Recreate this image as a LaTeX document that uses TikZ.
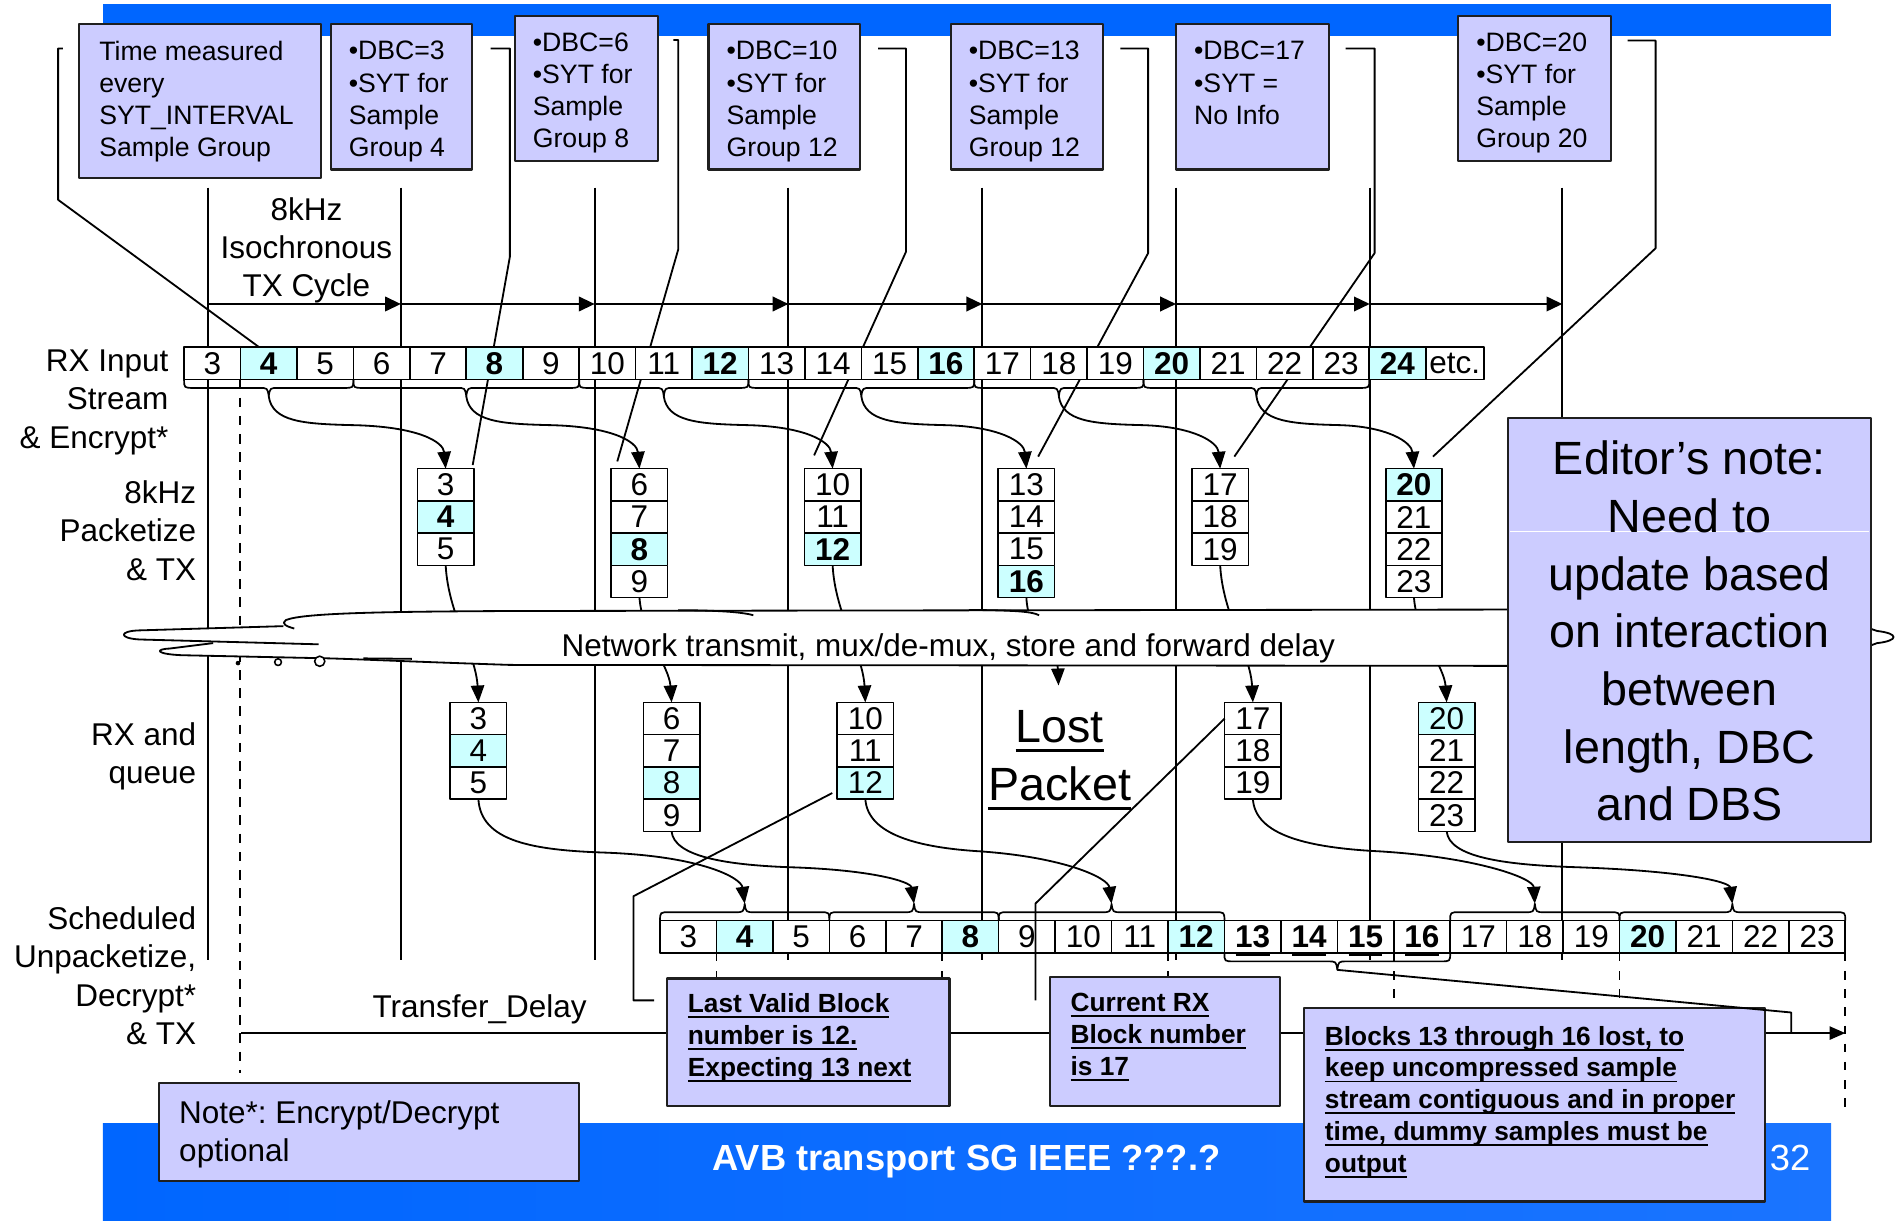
\documentclass[tikz,border=0pt]{standalone}
\usepackage{fontspec}
\setmainfont{Liberation Sans}
\usetikzlibrary{arrows.meta,calc}
\frenchspacing
\definecolor{lav}{HTML}{CCCCFF}
\definecolor{cy}{HTML}{CCFFFF}
\definecolor{bb}{HTML}{0066FF}
\definecolor{bbb}{HTML}{1A74FF}
\newcommand\fntA{\fontsize{22}{26.5}\selectfont}
\newcommand\fntB{\fontsize{26}{31.7}\selectfont}
\newcommand\fntBb{\fontsize{26}{31.7}\selectfont\bfseries}
\newcommand\fntC{\fontsize{38.5}{47.6}\selectfont}
\newcommand\fntD{\fontsize{21.7}{26.3}\selectfont\bfseries}
\newcommand\fntE{\fontsize{30}{36}\selectfont}
\newsavebox\ulbox
\newcommand\myul[2][1.6pt]{\sbox\ulbox{#2}\rlap{\rule[-0.21em]{\wd\ulbox}{#1}}\usebox\ulbox}
\newcommand\bracedn[3]{\draw[brc] (#1,#3) .. controls (#1,{#3+7}) .. ({#1+8},{#3+7}) -- ({(#1+#2)/2-8},{#3+7}) .. controls ({(#1+#2)/2-1},{#3+7}) .. ({(#1+#2)/2},{#3+14}) .. controls ({(#1+#2)/2+1},{#3+7}) .. ({(#1+#2)/2+8},{#3+7}) -- ({#2-8},{#3+7}) .. controls (#2,{#3+7}) .. (#2,#3);}
\newcommand\braceup[3]{\draw[brc] (#1,#3) .. controls (#1,{#3-7}) .. ({#1+8},{#3-7}) -- ({(#1+#2)/2-8},{#3-7}) .. controls ({(#1+#2)/2-1},{#3-7}) .. ({(#1+#2)/2},{#3-14}) .. controls ({(#1+#2)/2+1},{#3-7}) .. ({(#1+#2)/2+8},{#3-7}) -- ({#2-8},{#3-7}) .. controls (#2,{#3-7}) .. (#2,#3);}
\newcommand\rxarrow[2]{\draw[arr] (#1,327.3) .. controls ({#1+3},348) and ({#1+28},350) .. ({#1+68},351) .. controls ($(#2.north)+(-22,-35)$) and ($(#2.north)+(-2,-22)$) .. (#2.north);}
\begin{document}
\begin{tikzpicture}[x=1pt,y=-1pt,line join=round,
  cell/.style={draw=black,line width=1.3pt,fill=white,minimum width=46.6pt,minimum height=26.6pt,inner sep=0pt,outer sep=0pt,font=\fntB},
  lbox/.style={draw=black!88,line width=1.8pt,fill=lav,inner sep=0pt,outer sep=0pt,anchor=north west},
  ttxt/.style={inner sep=0pt,outer sep=0pt,anchor=north west,align=left},
  rlab/.style={inner sep=0pt,outer sep=0pt,anchor=north east,align=right,font=\fntB},
  cyc/.style={line width=1.6pt},
  lead/.style={line width=1.5pt},
  brc/.style={line width=1.4pt},
  cl/.style={line width=1.5pt},
  arr/.style={line width=1.5pt,-{Triangle[length=14pt,width=11pt]}},
  harr/.style={line width=1.6pt,-{Triangle[length=13pt,width=12pt]}},
  dsh/.style={line width=1.5pt,dash pattern=on 8pt off 7pt}]
\useasboundingbox (0,0) rectangle (1568,1010);

% blue bars
\fill[bb] (85,3) rectangle (1512,30);
\shade[left color=bb,right color=bbb] (85,928) rectangle (1512,1008);

% cycle lines and TX cycle arrows
\foreach \x [count=\i] in {172,331,491,651,811,971,1131,1290} {
  \coordinate (ct\i) at (\x,155);
  \coordinate (cb\i) at (\x,793);
  \coordinate (ch\i) at (\x,251);
  \draw[cyc] (ct\i) -- (cb\i);
}
\foreach \i [evaluate=\i as \j using int(\i+1)] in {1,...,7} \draw[harr] (ch\i) -- (ch\j);

\coordinate (dt) at (198,313.3);
\coordinate (db) at (198,886);
\draw[dsh] (dt) -- (db);

% TX packets
\foreach \n/\fillc/\fnt [count=\k from 0] in {3/white/\fntB,4/cy/\fntBb,5/white/\fntB}
  \node[cell,fill=\fillc,font=\fnt] (t\n) at (368,{400.3+\k*26.6}) {\n};
\foreach \n/\fillc/\fnt [count=\k from 0] in {6/white/\fntB,7/white/\fntB,8/cy/\fntBb,9/white/\fntB}
  \node[cell,fill=\fillc,font=\fnt] (t\n) at (528,{400.3+\k*26.6}) {\n};
\foreach \n/\fillc/\fnt [count=\k from 0] in {10/white/\fntB,11/white/\fntB,12/cy/\fntBb}
  \node[cell,fill=\fillc,font=\fnt] (t\n) at (687.5,{400.3+\k*26.6}) {\n};
\foreach \n/\fillc/\fnt [count=\k from 0] in {13/white/\fntB,14/white/\fntB,15/white/\fntB,16/cy/\fntBb}
  \node[cell,fill=\fillc,font=\fnt] (t\n) at (847.5,{400.3+\k*26.6}) {\n};
\foreach \n/\fillc/\fnt [count=\k from 0] in {17/white/\fntB,18/white/\fntB,19/white/\fntB}
  \node[cell,fill=\fillc,font=\fnt] (t\n) at (1007.5,{400.3+\k*26.6}) {\n};
\foreach \n/\fillc/\fnt [count=\k from 0] in {20/cy/\fntBb,21/white/\fntB,22/white/\fntB,23/white/\fntB}
  \node[cell,fill=\fillc,font=\fnt] (t\n) at (1167.5,{400.3+\k*26.6}) {\n};

% RX queues
\foreach \n/\fillc [count=\k from 0] in {3/white,4/cy,5/white}
  \node[cell,fill=\fillc] (q\n) at (395,{593.3+\k*26.6}) {\n};
\foreach \n/\fillc [count=\k from 0] in {6/white,7/white,8/cy,9/white}
  \node[cell,fill=\fillc] (q\n) at (554.5,{593.3+\k*26.6}) {\n};
\foreach \n/\fillc [count=\k from 0] in {10/white,11/white,12/cy}
  \node[cell,fill=\fillc] (q\n) at (714.5,{593.3+\k*26.6}) {\n};
\foreach \n/\fillc [count=\k from 0] in {17/white,18/white,19/white}
  \node[cell,fill=\fillc] (q\n) at (1034.5,{593.3+\k*26.6}) {\n};
\foreach \n/\fillc [count=\k from 0] in {20/cy,21/white,22/white,23/white}
  \node[cell,fill=\fillc] (q\n) at (1194.5,{593.3+\k*26.6}) {\n};

% leader lines from the top boxes
\draw[lead] (52,40) -- (48,40) -- (48,165) -- (214,286.7);
\draw[lead] (405,40) -- (421,40) -- (421,212) -- ($(t3.north east)+(-1,-3)$);
\draw[lead] (556,33) -- (560,33) -- (560,206) -- ($(t6.north west)+(5,-6)$);
\draw[lead] (725,40) -- (748,40) -- (748,208) -- ($(t10.north west)+(8,-11)$);
\draw[lead] (925,40) -- (948,40) -- (948,209) -- ($(t13.north west)+(33,-10)$);
\draw[lead] (1111,40) -- (1135,40) -- (1135,209) -- ($(t17.north west)+(35,-10)$);
\draw[lead] (1344,33.5) -- (1367,33.5) -- (1367,205) -- ($(t20.north west)+(39,-10)$);

% TX -> RX through the network
\coordinate (lost) at (874,566);
\draw[arr] (t5.south) .. controls +(2,40) and +(-2,-40) .. (q3.north);
\draw[arr] (t9.south) .. controls +(2,30) and +(-2,-30) .. (q6.north);
\draw[arr] (t12.south) .. controls +(2,40) and +(-2,-40) .. (q10.north);
\draw[arr] (t16.south) .. controls +(1,30) and +(-1,-28) .. (lost);
\draw[arr] (t19.south) .. controls +(2,40) and +(-2,-40) .. (q17.north);
\draw[arr] (t23.south) .. controls +(2,30) and +(-2,-30) .. (q20.north);

% network cloud
\path[fill=white] (236,512) .. controls (250,506) and (320,505) .. (421,504.5) -- (1450,503) .. controls (1530,505) and (1540,519) .. (1550,521) .. controls (1568,523) and (1568,529) .. (1550,531) .. controls (1540,533) and (1530,549) .. (1450,550) -- (421,549) .. controls (330,546) and (290,544) .. (267,543.5) -- (150,541) .. controls (128,540) and (128,536) .. (140,535.5) -- (176,531) -- (115,528) .. controls (98,527) and (98,521) .. (115,520.5) -- (234,517) -- cycle;
\draw[cl] (243,519) .. controls (236,517) and (232,515) .. (236,512) .. controls (250,506) and (320,505) .. (421,504.5) -- (1450,503) .. controls (1530,505) and (1540,519) .. (1550,521) .. controls (1568,523) and (1568,529) .. (1550,531) .. controls (1540,533) and (1530,549) .. (1450,550) -- (421,549) .. controls (330,546) and (290,544) .. (267,543.5) -- (150,541) .. controls (128,540) and (128,536) .. (140,535.5) -- (176,531);
\draw[cl] (234,517) -- (115,520.5) .. controls (98,521) and (98,527) .. (115,528) -- (263,532);
\draw[cl] (560,503.8) .. controls (600,504) and (615,506) .. (622,508);
\draw[cl] (800,503.6) .. controls (840,504) and (852,505) .. (858,508);
\draw[cl] (300,543.6) -- (340,544);
\fill (196.5,547.5) circle (1.9pt);
\draw[line width=1.3pt,fill=white] (229.6,546.7) circle (2.8pt);
\draw[line width=1.3pt,fill=white] (264,546) circle (4.2pt);
\node[anchor=base,inner sep=0pt,font=\fntB] (nw) at (783,542.3) {Network transmit, mux/de-mux, store and forward delay};

% RX input stream
\foreach \n/\fillc/\fnt [count=\k from 0] in {3/white/\fntB,4/cy/\fntBb,5/white/\fntB,6/white/\fntB,7/white/\fntB,8/cy/\fntBb,9/white/\fntB,10/white/\fntB,11/white/\fntB,12/cy/\fntBb,13/white/\fntB,14/white/\fntB,15/white/\fntB,16/cy/\fntBb,17/white/\fntB,18/white/\fntB,19/white/\fntB,20/cy/\fntBb,21/white/\fntB,22/white/\fntB,23/white/\fntB,24/cy/\fntBb}
  \node[cell,fill=\fillc,font=\fnt] (r\n) at ({175.3+\k*46.6},300) {\n};
\node[cell,minimum width=48pt] (retc) at (1201.2,300) {etc.};

\bracedn{152}{291.8}{313.3}
\bracedn{291.8}{478.2}{313.3}
\bracedn{478.2}{618}{313.3}
\bracedn{618}{804.4}{313.3}
\bracedn{804.4}{944.2}{313.3}
\bracedn{944.2}{1130.6}{313.3}
\rxarrow{221.9}{t3}
\rxarrow{385}{t6}
\rxarrow{548.1}{t10}
\rxarrow{711.2}{t13}
\rxarrow{874.3}{t17}
\rxarrow{1037.4}{t20}

% scheduled output row
\foreach \n/\fillc/\fnt [count=\k from 0] in {3/white/\fntB,4/cy/\fntBb,5/white/\fntB,6/white/\fntB,7/white/\fntB,8/cy/\fntBb,9/white/\fntB,10/white/\fntB,11/white/\fntB,12/cy/\fntBb,13/white/\fntBb,14/white/\fntBb,15/white/\fntBb,16/white/\fntBb,17/white/\fntB,18/white/\fntB,19/white/\fntB,20/cy/\fntBb,21/white/\fntB,22/white/\fntB,23/white/\fntB}
  \node[cell,fill=\fillc,font=\fnt] (s\n) at ({568.3+\k*46.6},773.5) {\n};
\foreach \n in {13,...,16} \draw[line width=2pt] ($(s\n.south)+(-14,1.5)$) -- ($(s\n.south)+(14,1.5)$);

\braceup{545}{684.8}{760.2}
\braceup{684.8}{824.6}{760.2}
\braceup{824.6}{1011}{760.2}
\braceup{1197.4}{1337.2}{760.2}
\braceup{1337.2}{1523.6}{760.2}
\bracedn{1011}{1197.4}{786.8}
\coordinate (sc1) at (614.9,746.2);
\coordinate (sc2) at (754.7,746.2);
\coordinate (sc3) at (917.8,746.2);
\coordinate (sc4) at (1267.3,746.2);
\coordinate (sc5) at (1430.4,746.2);
\coordinate (bc) at (1104.2,800.8);

\draw[arr] (q5.south) .. controls +(2,35) and (440,702) .. (500,704) .. controls (580,707) and (612,725) .. (sc1);
\draw[arr] (q9.south) .. controls +(2,21) and (600,714) .. (650,716) .. controls (720,718) and (752,728) .. (sc2);
\draw[arr] (q12.south) .. controls +(2,30) and (760,700) .. (810,703) .. controls (880,708) and (915,725) .. (sc3);
\draw[arr] (q19.south) .. controls +(2,30) and (1080,700) .. (1140,703) .. controls (1220,708) and (1266,725) .. (sc4);
\draw[arr] (q23.south) .. controls +(2,21) and (1240,714) .. (1300,716) .. controls (1390,719) and (1428,728) .. (sc5);

% dashed markers and transfer delay
\foreach \x in {591.6,778,964.4,1150.8,1337.2,1523.6} \draw[dsh,dash pattern=on 7pt off 8pt] (\x,786.8) -- (\x,917);
\coordinate (tdl) at (199,853);
\coordinate (tdr) at (1523.6,853);
\draw[line width=1.5pt,-{Triangle[length=13pt,width=11pt]}] (tdl) -- (tdr);

% boxes
\node[lbox,minimum width=200pt,minimum height=127pt] (b1) at (65,20) {};
\node[lbox,minimum width=117pt,minimum height=120pt] (b2) at (273,20) {};
\node[lbox,minimum width=118pt,minimum height=120pt] (b3) at (425,13) {};
\node[lbox,minimum width=125pt,minimum height=120pt] (b4) at (585,20) {};
\node[lbox,minimum width=126pt,minimum height=120pt] (b5) at (785,20) {};
\node[lbox,minimum width=126pt,minimum height=120pt] (b6) at (971,20) {};
\node[lbox,minimum width=126pt,minimum height=120pt] (b7) at (1204,13) {};
\node[ttxt,font=\fntA] (b1t) at (82,34.1) {Time measured\\every\\SYT\_INTERVAL\\Sample Group};
\node[ttxt,font=\fntA] (b2t) at (288,34.1) {•DBC=3\\•SYT for\\Sample\\Group 4};
\node[ttxt,font=\fntA] (b3t) at (440,27.1) {•DBC=6\\•SYT for\\Sample\\Group 8};
\node[ttxt,font=\fntA] (b4t) at (600,34.1) {•DBC=10\\•SYT for\\Sample\\Group 12};
\node[ttxt,font=\fntA] (b5t) at (800,34.1) {•DBC=13\\•SYT for\\Sample\\Group 12};
\node[ttxt,font=\fntA] (b6t) at (986,34.1) {•DBC=17\\•SYT =\\No Info};
\node[ttxt,font=\fntA] (b7t) at (1219,27.1) {•DBC=20\\•SYT for\\Sample\\Group 20};

\node[lbox,minimum width=233pt,minimum height=105pt] (lv) at (551,808) {};
\node[lbox,minimum width=190pt,minimum height=106pt] (cr) at (867,807) {};
\node[lbox,minimum width=380pt,minimum height=160pt] (bl) at (1077,832) {};
\node[lbox,minimum width=347pt,minimum height=81pt] (nt) at (131,894) {};
\node[lbox,minimum width=300pt,minimum height=350pt] (ed) at (1245,345) {};
\draw[white,line width=0.8pt] (1247,439) -- (1543,439);

\node[ttxt,font=\fntD] (lvt) at (568,820.2) {\myul{Last Valid Block}\\\myul{number is 12.}\\\myul{Expecting 13 next}};
\node[ttxt,font=\fntD] (crt) at (884,820.2) {\myul{Current RX}\\\myul{Block number}\\\myul{is 17}};
\node[ttxt,font=\fntD] (blt) at (1094,847.2) {\myul{Blocks 13 through 16 lost, to}\\\myul{keep uncompressed sample}\\\myul{stream contiguous and in proper}\\\myul{time, dummy samples must be}\\\myul{output}};
\node[ttxt,font=\fntB] (ntt) at (148,908.7) {Note*: Encrypt/Decrypt\\optional};
\node[inner sep=0pt,anchor=north,align=center,font=\fntC] (edt) at (1395,364) {Editor’s note:\\Need to\\update based\\on interaction\\between\\length, DBC\\and DBS};

% bottom leader lines
\draw[lead] (540,826) -- (523,826) -- (523,740) -- ($(q12.south west)+(-4,-5)$);
\draw[lead] (855,826) -- (855,746) -- (q17.west);
\draw[lead] (bc) -- (1479,836) -- (1479,853);

% labels
\node[inner sep=0pt,anchor=north,align=center,font=\fntB] (iso) at (253,162.7) {8kHz\\Isochronous\\TX Cycle};
\node[rlab] (l1) at (139,288.7) {RX Input\\Stream\\\& Encrypt*};
\node[rlab] (l2) at (162,396.7) {8kHz\\Packetize\\\& TX};
\node[rlab] (l3) at (162,596.7) {RX and\\queue};
\node[rlab] (l4) at (162,748.7) {Scheduled\\Unpacketize,\\Decrypt*\\\& TX};
\node[anchor=base,inner sep=0pt,font=\fntB] (td) at (396,840.3) {Transfer\_Delay};
\node[inner sep=0pt,anchor=north,align=center,font=\fntC] (lp) at (875,586.3) {\myul[2.6pt]{Lost}\\\myul[2.6pt]{Packet}};
\node[anchor=base,text=white,font=\fntE\bfseries,inner sep=0pt] (avb) at (798,966.7) {AVB transport SG IEEE ???.?};
\node[anchor=base,text=white,font=\fntE,inner sep=0pt] (pg) at (1478,966.7) {32};
\end{tikzpicture}
\end{document}
